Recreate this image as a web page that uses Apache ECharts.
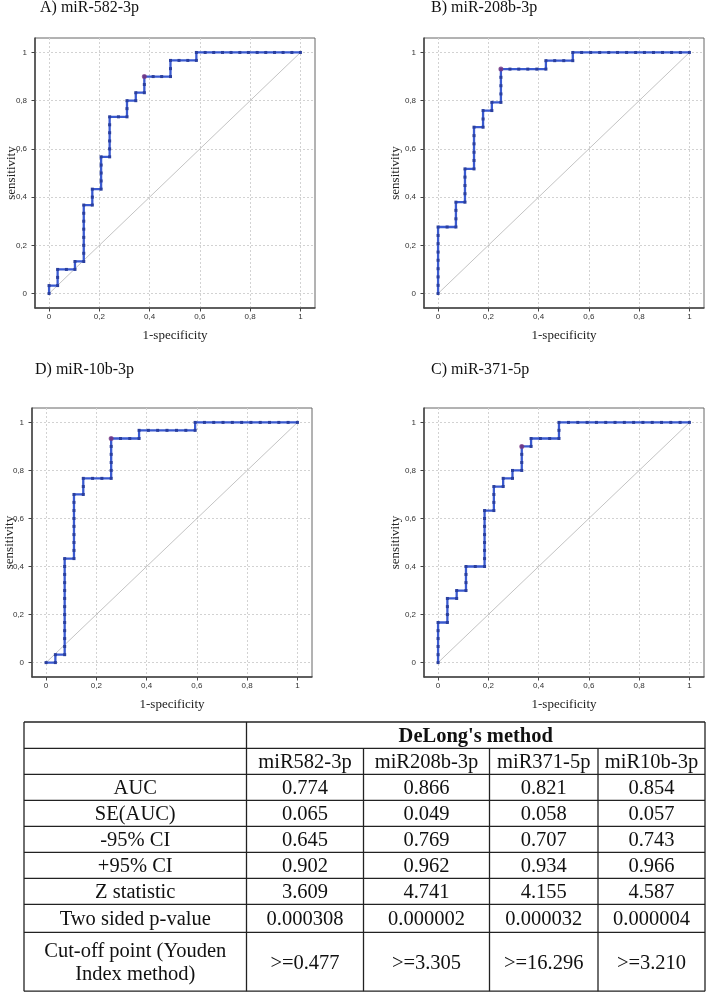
<!DOCTYPE html>
<html>
<head>
<meta charset="utf-8">
<title>ROC curves - DeLong</title>
<script src="https://cdn.jsdelivr.net/npm/echarts@6/dist/echarts.min.js"></script>
<style>
    html, body { margin: 0; padding: 0; background: #fff; }
    #main { width: 706px; height: 992px; }
</style>
</head>
<body>
<div id="main"></div>
<script>
/*
 * 4 ROC panels + DeLong table
 */

var tickValues = [0, 0.2, 0.4, 0.6, 0.8, 1];
var tickLabels = ['0', '0,2', '0,4', '0,6', '0,8', '1'];

var panelTitles = ['A) miR-582-3p', 'B) miR-208b-3p', 'D) miR-10b-3p', 'C) miR-371-5p'];

// [1-specificity, sensitivity]
var rocA = [[0,0],[0,.033],[.034,.033],[.034,.067],[.034,.1],[.069,.1],[.103,.1],[.103,.133],[.138,.133],[.138,.167],
    [.138,.2],[.138,.233],[.138,.267],[.138,.3],[.138,.333],[.138,.367],[.172,.367],[.172,.4],[.172,.433],[.207,.433],
    [.207,.467],[.207,.5],[.207,.533],[.207,.567],[.241,.567],[.241,.6],[.241,.633],[.241,.667],[.241,.7],[.241,.733],
    [.276,.733],[.31,.733],[.31,.767],[.31,.8],[.345,.8],[.345,.833],[.379,.833],[.379,.867],[.379,.9],[.414,.9],
    [.448,.9],[.483,.9],[.483,.933],[.483,.967],[.517,.967],[.552,.967],[.586,.967],[.586,1],[.621,1],[.655,1],
    [.69,1],[.724,1],[.759,1],[.793,1],[.828,1],[.862,1],[.897,1],[.931,1],[.966,1],[1,1]];

var rocB = [[0,0],[0,.034],[0,.069],[0,.103],[0,.138],[0,.172],[0,.207],[0,.241],[0,.276],
    [.036,.276],[.071,.276],[.071,.31],[.071,.345],[.071,.379],
    [.107,.379],[.107,.414],[.107,.448],[.107,.483],[.107,.517],
    [.143,.517],[.143,.552],[.143,.586],[.143,.621],[.143,.655],[.143,.69],
    [.179,.69],[.179,.724],[.179,.759],[.214,.759],[.214,.793],
    [.25,.793],[.25,.828],[.25,.862],[.25,.897],[.25,.931],
    [.286,.931],[.321,.931],[.357,.931],[.393,.931],[.429,.931],[.429,.966],
    [.464,.966],[.5,.966],[.536,.966],[.536,1],
    [.571,1],[.607,1],[.643,1],[.679,1],[.714,1],[.75,1],[.786,1],[.821,1],[.857,1],[.893,1],[.929,1],[.964,1],[1,1]];

var rocD = [[0,0],[.037,0],[.037,.033],[.074,.033],[.074,.067],[.074,.1],[.074,.133],[.074,.167],[.074,.2],[.074,.233],
    [.074,.267],[.074,.3],[.074,.333],[.074,.367],[.074,.4],[.074,.433],
    [.111,.433],[.111,.467],[.111,.5],[.111,.533],[.111,.567],[.111,.6],[.111,.633],[.111,.667],[.111,.7],
    [.148,.7],[.148,.733],[.148,.767],
    [.185,.767],[.222,.767],[.259,.767],[.259,.8],[.259,.833],[.259,.867],[.259,.9],[.259,.933],
    [.296,.933],[.333,.933],[.37,.933],[.37,.967],
    [.407,.967],[.444,.967],[.481,.967],[.519,.967],[.556,.967],[.593,.967],[.593,1],
    [.63,1],[.667,1],[.704,1],[.741,1],[.778,1],[.815,1],[.852,1],[.889,1],[.926,1],[.963,1],[1,1]];

var rocC = [[0,0],[0,.033],[0,.067],[0,.1],[0,.133],[0,.167],
    [.037,.167],[.037,.2],[.037,.233],[.037,.267],[.074,.267],[.074,.3],
    [.111,.3],[.111,.333],[.111,.367],[.111,.4],
    [.148,.4],[.185,.4],[.185,.433],[.185,.467],[.185,.5],[.185,.533],[.185,.567],[.185,.6],[.185,.633],
    [.222,.633],[.222,.667],[.222,.7],[.222,.733],[.259,.733],[.259,.767],[.296,.767],[.296,.8],
    [.333,.8],[.333,.833],[.333,.867],[.333,.9],[.37,.9],[.37,.933],
    [.407,.933],[.444,.933],[.481,.933],[.481,.967],[.481,1],
    [.519,1],[.556,1],[.593,1],[.63,1],[.667,1],[.704,1],[.741,1],[.778,1],[.815,1],[.852,1],[.889,1],[.926,1],[.963,1],[1,1]];

// Youden cut-off points (marked in purple)
var youdenA = [.379, .9];
var youdenB = [.25, .931];
var youdenD = [.259, .933];
var youdenC = [.333, .9];

var diagonal = [[0, 0], [1, 1]];

// table
var tableHead = "DeLong's method";
var tableMirs = ['miR582-3p', 'miR208b-3p', 'miR371-5p', 'miR10b-3p'];
var rowNames = ['AUC', 'SE(AUC)', '-95% CI', '+95% CI', 'Z statistic', 'Two sided p-value', 'Cut-off point (Youden\nIndex method)'];
var col582 = ['0.774', '0.065', '0.645', '0.902', '3.609', '0.000308', '>=0.477'];
var col208 = ['0.866', '0.049', '0.769', '0.962', '4.741', '0.000002', '>=3.305'];
var col371 = ['0.821', '0.058', '0.707', '0.934', '4.155', '0.000032', '>=16.296'];
var col10b = ['0.854', '0.057', '0.743', '0.966', '4.587', '0.000004', '>=3.210'];


var serif = '"Liberation Serif", "Times New Roman", serif';

// grid boxes (frame) and label offsets per panel
var panels = [
    { roc: rocA, youden: youdenA, left: 35, top: 38, height: 270, titleLeft: 40, titleTop: 0, gapY: 16.5 },
    { roc: rocB, youden: youdenB, left: 424, top: 38, height: 270, titleLeft: 431, titleTop: 0, gapY: 22 },
    { roc: rocD, youden: youdenD, left: 32, top: 408, height: 269, titleLeft: 35, titleTop: 362, gapY: 16 },
    { roc: rocC, youden: youdenC, left: 424, top: 408, height: 269, titleLeft: 431, titleTop: 362, gapY: 21.5 }
];

function tickFmt(v) {
    var i = tickValues.indexOf(v);
    if (i < 0) {
        return String(v).replace('.', ',');
    }
    return tickLabels[i];
}

function makeAxis(idx, isX, gap) {
    return {
        type: 'value',
        gridIndex: idx,
        min: isX ? -0.056 : -0.06,
        max: isX ? 1.058 : 1.06,
        name: isX ? '1-specificity' : 'sensitivity',
        nameLocation: 'middle',
        nameGap: gap,
        nameMoveOverlap: false,
        nameTextStyle: { fontFamily: serif, fontSize: 13, color: '#222' },
        axisLine: { show: true, onZero: false, lineStyle: { color: '#444', width: 1.5 } },
        axisTick: { show: true, length: 3.5, customValues: tickValues, lineStyle: { color: '#444' } },
        axisLabel: {
            customValues: tickValues,
            formatter: tickFmt,
            fontFamily: '"Liberation Sans", Arial, sans-serif',
            fontSize: 8,
            color: '#333',
            margin: isX ? 5 : 8
        },
        splitLine: { show: true, lineStyle: { color: '#d2d2d2', type: [2, 2], width: 1 } }
    };
}

var grids = [], xAxes = [], yAxes = [], titles = [], series = [];

panels.forEach(function (p, i) {
    grids.push({
        left: p.left, top: p.top, width: 280, height: p.height,
        show: true, borderColor: '#666', borderWidth: 1, backgroundColor: '#fff'
    });
    xAxes.push(makeAxis(i, true, 21.5));
    yAxes.push(makeAxis(i, false, p.gapY));
    titles.push({
        text: panelTitles[i],
        left: p.titleLeft, top: p.titleTop, padding: 0,
        textStyle: { fontFamily: serif, fontSize: 16, fontWeight: 'normal', color: '#111' }
    });

    // reference diagonal
    series.push({
        type: 'line', xAxisIndex: i, yAxisIndex: i,
        data: diagonal, symbol: 'none', silent: true,
        lineStyle: { color: '#b4b4b4', width: 0.8 }, z: 2
    });
    // ROC curve
    series.push({
        type: 'line', xAxisIndex: i, yAxisIndex: i,
        data: p.roc,
        symbol: 'rect', symbolSize: 3, showAllSymbol: true,
        lineStyle: { color: '#3a5ad0', width: 2.3 },
        itemStyle: { color: '#2a3f9e' }, z: 3
    });
    // cut-off point
    series.push({
        type: 'scatter', xAxisIndex: i, yAxisIndex: i,
        data: [p.youden], symbol: 'circle', symbolSize: 5,
        itemStyle: { color: '#7b3a86' }, z: 4
    });
});


// table drawn with graphic elements
var colX = [24, 246.5, 363.5, 489.5, 598, 705];
var rowY = [722, 748.3, 774.3, 800.3, 826.3, 852.3, 878.3, 904.3, 932.3, 991.2];
var tableCols = [col582, col208, col371, col10b];
var tableFont = '20.5px ' + serif;

function tLine(x1, y1, x2, y2) {
    return { type: 'line', shape: { x1: x1, y1: y1, x2: x2, y2: y2 }, style: { stroke: '#222', lineWidth: 1.3 }, silent: true };
}

function tText(txt, x, y, bold) {
    return {
        type: 'text', x: x, y: y, silent: true,
        style: {
            text: txt, font: (bold ? 'bold ' : '') + tableFont, fill: '#111',
            align: 'center', verticalAlign: 'middle', lineHeight: 23
        }
    };
}

var tableEls = [];
rowY.forEach(function (y) {
    tableEls.push(tLine(colX[0], y, colX[5], y));
});
colX.forEach(function (x, i) {
    var y0 = (i >= 2 && i <= 4) ? rowY[1] : rowY[0];
    tableEls.push(tLine(x, y0, x, rowY[rowY.length - 1]));
});

tableEls.push(tText(tableHead, (colX[1] + colX[5]) / 2, (rowY[0] + rowY[1]) / 2 + 1.5, true));
tableMirs.forEach(function (m, c) {
    tableEls.push(tText(m, (colX[c + 1] + colX[c + 2]) / 2, (rowY[1] + rowY[2]) / 2 + 1.5));
});
rowNames.forEach(function (name, r) {
    var cy = (rowY[r + 2] + rowY[r + 3]) / 2 + 1.5;
    tableEls.push(tText(name, (colX[0] + colX[1]) / 2, cy));
    tableCols.forEach(function (col, c) {
        tableEls.push(tText(col[r], (colX[c + 1] + colX[c + 2]) / 2, cy));
    });
});


var chart = echarts.init(document.getElementById('main'), null, { renderer: 'canvas' });

var option = {
    animation: false,
    backgroundColor: '#fff',
    title: titles,
    grid: grids,
    xAxis: xAxes,
    yAxis: yAxes,
    series: series,
    graphic: { elements: tableEls }
};

chart.setOption(option);
</script>
</body>
</html>
